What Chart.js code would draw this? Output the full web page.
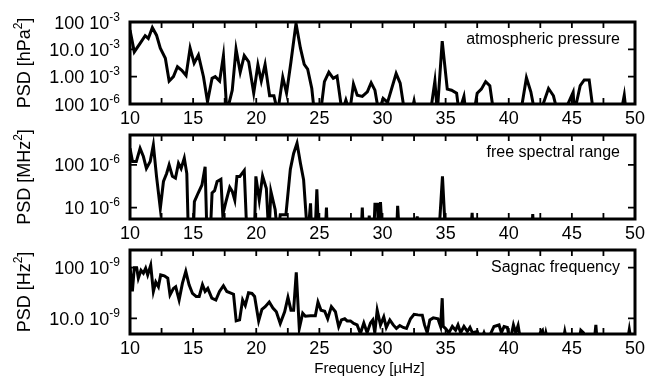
<!DOCTYPE html>
<html>
<head>
<meta charset="utf-8">
<title>PSD panels</title>
<script src="https://cdn.jsdelivr.net/npm/chart.js@4.4.1/dist/chart.umd.min.js"></script>
<style>
  html, body { margin: 0; padding: 0; background: #fff; }
  #wrap { position: relative; width: 647px; height: 389px; }
  #wrap canvas { position: absolute; left: 0; }
</style>
</head>
<body>
<div id="wrap">
  <canvas id="pressure" width="647" height="130" style="top:0"></canvas>
  <canvas id="fsr" width="647" height="130" style="top:118px"></canvas>
  <canvas id="sagnac" width="647" height="153" style="top:236px"></canvas>
</div>
<script>
'use strict';

// ── DATA ──────────────────────────────────────────────────────
// frequencies in µHz, PSD in the unit of each panel's tick labels

const freqTicks = [10, 15, 20, 25, 30, 35, 40, 45, 50];

// atmospheric pressure, PSD in 10^-3 hPa^2
const pressureFreq = [10.0, 10.34, 10.8, 11.2, 11.45, 11.77, 12.1, 12.4, 12.8, 13.1,
  13.44, 13.76, 14.1, 14.44, 14.76, 15.08, 15.42, 15.82, 16.14, 16.5,
  16.75, 17.1, 17.4, 17.67, 18.1, 18.4, 18.73, 19.05, 19.4, 19.8,
  20.13, 20.4, 20.7, 21.06, 21.4, 21.7, 22.1, 22.4, 22.75, 23.15,
  23.5, 23.8, 24.07, 24.4, 24.6, 25.1, 25.4, 25.75, 26.1, 26.4,
  26.8, 27.1, 27.4, 27.7, 28.0, 28.4, 28.8, 29.1, 29.4, 29.7,
  30.05, 30.4, 31.08, 31.4, 31.75, 32.3, 32.5, 32.67, 33.8, 34.15,
  34.34, 34.73, 35.13, 35.47, 35.87, 36.06, 36.45, 36.6, 37.25, 37.5,
  37.83, 38.17, 38.5, 38.8, 40.95, 41.4, 41.75, 42.06, 42.5, 43.15,
  43.54, 43.86, 44.4, 45.1, 45.2, 45.66, 45.98, 46.37, 46.7, 48.9,
  49.15, 49.3, 50];
const pressurePsd = [51, 8.1, 16.6, 31.6, 25, 62, 33, 11, 4.7, 0.69,
  1.0, 2.3, 1.7, 1.1, 11, 3.1, 6.2, 1.0, 0.12, 0.87,
  1.0, 0.69, 5.9, 0.05, 0.32, 10.2, 1.45, 5.9, 3.5, 0.25,
  2.7, 0.69, 2.8, 0.2, 0.2, 0.05, 0.95, 0.25, 3.5, 89,
  11, 2.8, 1.9, 0.37, 0.05, 0.05, 0.66, 1.45, 0.87, 1.05,
  0.05, 0.14, 0.05, 0.54, 0.21, 0.19, 0.28, 0.6, 0.32, 0.05,
  0.16, 0.115, 1.3, 0.58, 0.05, 0.05, 0.13, 0.05, 0.05, 0.69,
  0.05, 20, 0.35, 0.32, 0.25, 0.05, 0.19, 0.05, 0.05, 0.25,
  0.35, 0.66, 0.47, 0.05, 0.05, 0.91, 0.28, 0.05, 0.05, 0.37,
  0.2, 0.05, 0.05, 0.27, 0.05, 0.47, 0.76, 0.76, 0.05, 0.05,
  0.21, 0.05, 0.05];
const pressureTicks = [100, 10, 1, 0.1];
const pressureTickText = [['100 10', '-3'], ['10.0 10', '-3'], ['1.00 10', '-3'], ['100 10', '-6']];

// free spectral range, PSD in 10^-6 MHz^2
const fsrFreq = [10.0, 10.2, 10.5, 10.8, 11.06, 11.3, 11.6, 11.85, 12.1, 12.4,
  12.65, 12.9, 13.1, 13.36, 13.6, 13.84, 14.05, 14.3, 14.5, 14.63,
  15.0, 15.1, 15.4, 15.7, 15.95, 16.1, 16.35, 16.5, 16.7, 16.9,
  17.2, 17.35, 17.6, 17.9, 18.1, 18.3, 18.47, 18.7, 19.05, 19.2,
  19.3, 19.85, 19.97, 20.24, 20.5, 20.8, 21.0, 21.16, 21.5, 21.7,
  21.9, 22.35, 22.7, 22.96, 23.23, 23.5, 23.75, 24.07, 24.3, 24.4,
  24.65, 24.8, 24.95, 25.45, 25.56, 25.65, 28.3, 28.4, 28.5, 28.85,
  28.95, 29.05, 29.3, 29.4, 29.6, 29.7, 29.84, 30.0, 31.1, 31.2,
  31.35, 32.6, 32.75, 32.9, 34.45, 34.75, 35.0, 36.95, 37.1, 37.2,
  41.8, 41.9, 42.0, 50];
const fsrPsd = [245, 120, 120, 245, 158, 83, 120, 295, 54, 9.5,
  41, 63, 100, 54, 49, 110, 83, 145, 63, 2,
  2, 13.8, 22, 34, 91, 2, 2, 22, 25, 41,
  46, 6.8, 13.8, 30, 24, 15, 54, 54, 74, 6.2,
  2, 2, 54, 15, 55, 28, 2, 24, 8.9, 2,
  6.8, 6.8, 79, 186, 324, 110, 45, 2, 12.6, 2,
  2, 27, 2, 2, 10, 2, 2, 10, 2, 2,
  6.5, 2, 2, 12, 12, 2, 13.5, 2, 2, 11,
  2, 2, 6.2, 2, 2, 54, 2, 2, 7.5, 2,
  2, 7, 2, 2];
const fsrTicks = [100, 10];
const fsrTickText = [['100 10', '-6'], ['10 10', '-6']];

// Sagnac frequency, PSD in 10^-9 Hz^2
const sagnacFreq = [10.0, 10.19, 10.34, 10.53, 10.66, 10.87, 11.06, 11.24, 11.4, 11.64,
  11.85, 12.04, 12.25, 12.43, 12.72, 12.99, 13.17, 13.44, 13.62, 13.89,
  14.15, 14.42, 14.68, 14.95, 15.24, 15.48, 15.74, 15.95, 16.16, 16.48,
  16.8, 17.09, 17.4, 17.67, 17.94, 18.2, 18.41, 18.68, 18.92, 19.13,
  19.39, 19.66, 19.87, 20.19, 20.45, 20.71, 21.03, 21.32, 21.59, 21.9,
  22.25, 22.51, 22.75, 22.96, 23.17, 23.41, 23.68, 23.89, 24.29, 24.68,
  24.89, 25.13, 25.42, 25.66, 25.95, 26.27, 26.53, 26.75, 27.01, 27.2,
  27.46, 27.72, 27.99, 28.25, 28.52, 28.78, 29.05, 29.23, 29.39, 29.58,
  29.84, 30.1, 30.3, 30.58, 30.85, 31.1, 31.37, 31.64, 31.9, 32.22,
  32.5, 32.8, 33.15, 33.33, 33.54, 33.75, 34.02, 34.39, 34.6, 34.73,
  34.81, 35.0, 35.26, 35.53, 35.79, 35.98, 36.19, 36.45, 36.72, 36.93,
  37.12, 37.51, 37.78, 38.04, 38.3, 38.57, 38.83, 39.23, 39.42, 39.63,
  39.89, 40.1, 40.37, 40.55, 40.74, 40.95, 42.3, 42.5, 42.67, 42.8,
  42.94, 43.1, 44.3, 44.44, 44.6, 45.55, 45.71, 45.92, 46.1, 46.77,
  46.9, 47.0, 49.4, 49.55, 49.7, 50];
const sagnacPsd = [105, 34, 100, 100, 62, 89, 78, 98, 72, 112,
  34, 52, 42, 72, 69, 62, 29, 39, 42, 23,
  49, 85, 46, 31, 27, 27, 46, 34, 39, 25,
  23, 34, 44, 34, 32, 30, 8.9, 9.3, 23, 18,
  32, 31, 27, 8.9, 15, 17, 21, 16, 13.5, 7.9,
  13.5, 26, 14.5, 14.5, 81, 6.3, 12.6, 11, 11.2, 11.2,
  21, 14.5, 13.8, 9.8, 17, 13.5, 6.8, 9.3, 9.8, 8.9,
  8.9, 7.9, 7.4, 5.0, 8.1, 5.2, 8.1, 9.3, 5.2, 14.5,
  7.4, 10.7, 6.6, 9.3, 7.4, 6.3, 7.2, 6.6, 6.3, 9.8,
  12, 11.7, 11.5, 7.4, 5.2, 9.3, 10.2, 9.8, 6.9, 25,
  6.9, 6.3, 5.2, 6.9, 5.8, 7.4, 5.2, 6.9, 5.5, 6.6,
  5.2, 5.5, 3.5, 5.2, 3.5, 5.0, 6.9, 7.4, 5.2, 6.9,
  6.6, 3.5, 7.4, 5.2, 7.2, 3.5, 3.5, 5.2, 5.8, 3.5,
  5.2, 3.5, 3.5, 5.5, 3.5, 3.5, 5.8, 5.2, 3.5, 3.5,
  7.4, 3.5, 3.5, 6.0, 3.5, 3.5];
const sagnacTicks = [100, 10];
const sagnacTickText = [['100 10', '-9'], ['10.0 10', '-9']];

// ── DRAWING HELPERS ───────────────────────────────────────────

const FONT = '"Liberation Sans", Arial, Helvetica, sans-serif';

// width of base text + exponent + tail
function supWidth(ctx, base, exp, tail, size, supSize) {
  ctx.font = `${size}px ${FONT}`;
  let w = ctx.measureText(base).width + ctx.measureText(tail).width;
  ctx.font = `${supSize}px ${FONT}`;
  return w + ctx.measureText(exp).width;
}
// base text + raised exponent (+ optional tail), left-aligned at x
function drawSup(ctx, base, exp, tail, x, y, size, supSize, rise) {
  ctx.textAlign = 'left';
  ctx.textBaseline = 'alphabetic';
  ctx.font = `${size}px ${FONT}`;
  ctx.fillText(base, x, y);
  x += ctx.measureText(base).width;
  ctx.font = `${supSize}px ${FONT}`;
  ctx.fillText(exp, x, y - rise);
  x += ctx.measureText(exp).width;
  if (tail) {
    ctx.font = `${size}px ${FONT}`;
    ctx.fillText(tail, x, y);
  }
}

// frame, inward ticks, tick labels, titles and panel caption
const panelFrame = {
  id: 'panelFrame',
  afterDraw(chart, args, o) {
    const { ctx, chartArea: a, scales: { x, y } } = chart;
    ctx.save();
    ctx.fillStyle = '#000';
    ctx.strokeStyle = '#000';

    // inward tick marks on all four sides
    ctx.lineWidth = 1.8;
    ctx.beginPath();
    x.ticks.forEach(t => {
      const px = x.getPixelForValue(t.value);
      ctx.moveTo(px, a.bottom); ctx.lineTo(px, a.bottom - 6);
      ctx.moveTo(px, a.top);    ctx.lineTo(px, a.top + 6);
    });
    o.yTicks.forEach(v => {
      const py = y.getPixelForValue(v);
      if (py < a.top - 1 || py > a.bottom + 1) return;
      ctx.moveTo(a.left, py);  ctx.lineTo(a.left + 7, py);
      ctx.moveTo(a.right, py); ctx.lineTo(a.right - 7, py);
    });
    ctx.stroke();

    // frame
    ctx.lineWidth = 3;
    ctx.strokeRect(a.left, a.top, a.width, a.height);

    // x tick labels
    ctx.font = `18px ${FONT}`;
    ctx.textAlign = 'center';
    ctx.textBaseline = 'alphabetic';
    freqTicks.forEach(v => ctx.fillText(String(v), x.getPixelForValue(v), a.bottom + 20));

    // y tick labels with exponents
    o.yTicks.forEach((v, i) => {
      const [base, exp] = o.yTickText[i];
      const w = supWidth(ctx, base, exp, '', 18, 12);
      drawSup(ctx, base, exp, '', 120 - w, y.getPixelForValue(v) + 6.5, 18, 12, 8);
    });

    // rotated y title
    ctx.save();
    ctx.translate(30, (a.top + a.bottom) / 2);
    ctx.rotate(-Math.PI / 2);
    const tw = supWidth(ctx, o.yTitle[0], o.yTitle[1], o.yTitle[2], 18, 12);
    drawSup(ctx, o.yTitle[0], o.yTitle[1], o.yTitle[2], -tw / 2, 0, 18, 12, 8);
    ctx.restore();

    // caption in the top right corner
    ctx.font = `16px ${FONT}`;
    ctx.textAlign = 'right';
    ctx.fillText(o.caption, a.right - 15, a.top + 22);

    // x title (bottom panel only)
    if (o.xTitle) {
      ctx.font = `15px ${FONT}`;
      ctx.textAlign = 'center';
      ctx.fillText(o.xTitle, (a.left + a.right) / 2 - 13, a.bottom + 39);
    }
    ctx.restore();
  },
};

// ── PANELS ────────────────────────────────────────────────────

function makePanel(id, freq, psd, yMin, yMax, padTop, xHeight, frame) {
  return new Chart(document.getElementById(id), {
    type: 'line',
    data: {
      datasets: [{
        data: freq.map((f, i) => ({ x: f, y: psd[i] })),
        borderColor: '#000',
        borderWidth: 3,
        pointRadius: 0,
        tension: 0,
        fill: false,
      }],
    },
    plugins: [panelFrame],
    options: {
      responsive: false,
      animation: false,
      events: [],
      layout: { padding: { top: padTop, right: 12, bottom: 0, left: 0 } },
      plugins: {
        legend: { display: false },
        tooltip: { enabled: false },
        panelFrame: frame,
      },
      scales: {
        x: {
          type: 'linear',
          bounds: 'data',
          min: 10,
          max: 50,
          ticks: { display: false, stepSize: 2.5 },
          grid: { display: false },
          border: { display: false },
          afterFit: s => { s.height = xHeight; },
        },
        y: {
          type: 'logarithmic',
          bounds: 'data',
          min: yMin,
          max: yMax,
          ticks: { display: false },
          grid: { display: false },
          border: { display: false },
          afterFit: s => { s.width = 130; },
        },
      },
    },
  });
}

makePanel('pressure', pressureFreq, pressurePsd, 0.1, 100, 22, 26, {
  yTicks: pressureTicks, yTickText: pressureTickText,
  yTitle: ['PSD [hPa', '2', ']'], caption: 'atmospheric pressure',
});
makePanel('fsr', fsrFreq, fsrPsd, 5.4, 505, 17, 29, {
  yTicks: fsrTicks, yTickText: fsrTickText,
  yTitle: ['PSD [MHz', '2', ']'], caption: 'free spectral range',
});
makePanel('sagnac', sagnacFreq, sagnacPsd, 4.9, 224, 14, 55, {
  yTicks: sagnacTicks, yTickText: sagnacTickText,
  yTitle: ['PSD [Hz', '2', ']'], caption: 'Sagnac frequency',
  xTitle: 'Frequency [\u00b5Hz]',
});
</script>
</body>
</html>
